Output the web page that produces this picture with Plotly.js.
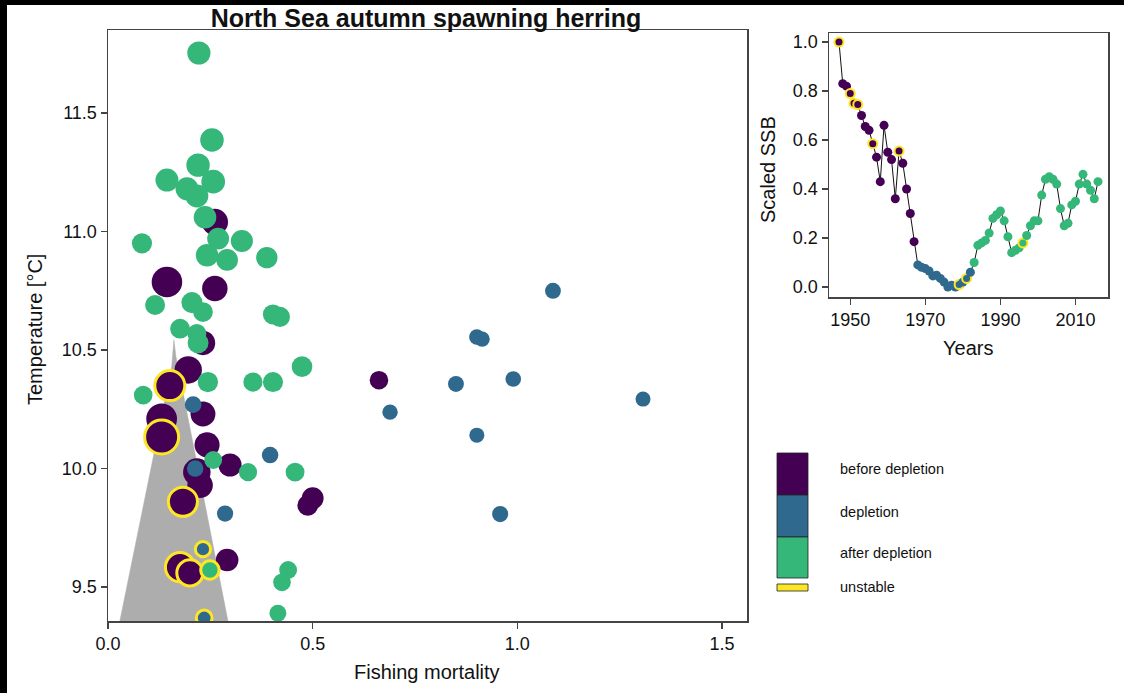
<!DOCTYPE html>
<html>
<head>
<meta charset="utf-8">
<script src="https://cdn.plot.ly/plotly-3.0.1.min.js"></script>
<style>
  html, body { margin: 0; padding: 0; background: #ffffff; }
  #chart { width: 1124px; height: 693px; }
</style>
</head>
<body>
<div id="chart"></div>
<script>
// ---------------- DATA ----------------
// Left panel: fishing mortality vs temperature, point size = scaled SSB
const fBefore = [0.261,0.144,0.261,0.232,0.196,0.151,0.232,0.131,0.131,0.242,0.298,0.217,0.225,0.183,0.500,0.488,0.291,0.176,0.200,0.662];
const tBefore = [11.04,10.787,10.76,10.53,10.416,10.35,10.23,10.21,10.133,10.10,10.015,9.985,9.93,9.86,9.875,9.845,9.614,9.584,9.56,10.373];
const ssbBefore = [0.60,0.82,0.55,0.50,0.65,0.79,0.52,0.83,1.00,0.53,0.43,0.66,0.55,0.745,0.36,0.30,0.40,0.75,0.585,0.185];
const unstableBefore = [0,0,0,0,0,1,0,0,1,0,0,0,0,1,0,0,0,1,1,0];

const fDepl = [0.208,0.396,0.213,0.286,0.232,0.235,1.087,0.901,0.914,0.850,0.990,1.307,0.689,0.901,0.958];
const tDepl = [10.27,10.057,10.0,9.81,9.66,9.37,10.75,10.555,10.546,10.357,10.378,10.293,10.238,10.141,9.808];
const ssbDepl = [0.09,0.08,0.075,0.065,0.01,0.035,0.045,0.02,0.007,0.048,0.035,0.0,0.02,0.0,0.06];
const unstableDepl = [0,0,0,0,1,1,0,0,0,0,0,0,0,0,0];

const fAfter = [0.222,0.254,0.220,0.144,0.193,0.257,0.217,0.237,0.269,0.327,0.083,0.242,0.291,0.388,0.115,0.205,0.232,0.403,0.420,0.176,0.217,0.220,0.244,0.474,0.354,0.403,0.086,0.257,0.342,0.457,0.249,0.440,0.425,0.415];
const tAfter = [11.753,11.386,11.28,11.217,11.18,11.21,11.15,11.06,10.97,10.96,10.95,10.90,10.88,10.89,10.69,10.70,10.66,10.65,10.64,10.59,10.57,10.53,10.365,10.43,10.365,10.365,10.31,10.036,9.985,9.985,9.572,9.572,9.52,9.39];
const ssbAfter = [0.43,0.45,0.44,0.42,0.42,0.46,0.42,0.40,0.36,0.375,0.27,0.395,0.35,0.335,0.26,0.32,0.25,0.27,0.27,0.25,0.21,0.31,0.28,0.295,0.22,0.27,0.19,0.15,0.17,0.205,0.18,0.15,0.14,0.10];
const unstableAfter = [0,0,0,0,0,0,0,0,0,0,0,0,0,0,0,0,0,0,0,0,0,0,0,0,0,0,0,0,0,0,1,0,0,0];

// Grey region
const regionF = [0.029,0.1556,0.161,0.166,0.293];
const regionT = [9.357,10.43,10.542,10.472,9.357];

// Right panel: scaled SSB time series
const yearsBefore = [1947,1948,1949,1950,1951,1952,1953,1954,1955,1956,1957,1958,1959,1960,1961,1962,1963,1964,1965,1966,1967];
const ssbSeriesBefore = [1.0,0.83,0.82,0.79,0.75,0.745,0.70,0.655,0.64,0.585,0.53,0.43,0.66,0.55,0.52,0.36,0.555,0.505,0.40,0.30,0.185];
const unstSeriesBefore = [1,0,0,1,1,1,0,0,0,1,0,0,0,0,0,0,1,0,0,0,0];
const yearsDepl = [1968,1969,1970,1971,1972,1973,1974,1975,1976,1977,1978,1979,1980,1981,1982];
const ssbSeriesDepl = [0.09,0.08,0.075,0.065,0.045,0.048,0.035,0.02,0.0,0.007,0.0,0.01,0.02,0.035,0.06];
const unstSeriesDepl = [0,0,0,0,0,0,0,0,0,0,0,1,0,1,0];
const yearsAfter = [1983,1984,1985,1986,1987,1988,1989,1990,1991,1992,1993,1994,1995,1996,1997,1998,1999,2000,2001,2002,2003,2004,2005,2006,2007,2008,2009,2010,2011,2012,2013,2014,2015,2016];
const ssbSeriesAfter = [0.10,0.17,0.18,0.19,0.22,0.28,0.295,0.31,0.27,0.205,0.14,0.15,0.16,0.18,0.21,0.25,0.27,0.27,0.375,0.44,0.45,0.44,0.42,0.32,0.25,0.26,0.335,0.35,0.42,0.46,0.42,0.395,0.36,0.43];
const unstSeriesAfter = [0,0,0,0,0,0,0,0,0,0,0,0,0,1,0,0,0,0,0,0,0,0,0,0,0,0,0,0,0,0,0,0,0,0];

const phaseLabels = ['before depletion','depletion','after depletion','unstable'];
const tickF = [0,0.5,1,1.5];
const tickT = [9.5,10,10.5,11,11.5];
const tickYears = [1950,1970,1990,2010];
const tickSSB = [0,0.2,0.4,0.6,0.8,1.0];

// ---------------- STYLE ----------------
const W = 1124, H = 693;
const px = v => v / W;
const py = v => 1 - v / H;
const C_BEFORE = '#440154', C_DEPL = '#30698E', C_AFTER = '#35B779', C_UNST = '#FDE725';
const FONT = 'Liberation Sans, Arial, sans-serif';
const sizeOf = s => 15 + 19 * s;

function leftTrace(f, t, ssb, unst, color) {
  return {
    type: 'scatter', mode: 'markers', x: f, y: t, xaxis: 'x', yaxis: 'y',
    marker: {
      color: color, size: ssb.map(sizeOf), opacity: 1,
      line: { color: unst.map(u => u ? C_UNST : color), width: unst.map(u => u ? 3 : 0) }
    },
    hoverinfo: 'x+y'
  };
}
function rightTrace(yrs, ssb, unst, color) {
  return {
    type: 'scatter', mode: 'markers', x: yrs, y: ssb, xaxis: 'x2', yaxis: 'y2',
    marker: {
      color: color, size: 9,
      line: { color: unst.map(u => u ? C_UNST : color), width: unst.map(u => u ? 2 : 0) }
    }
  };
}

const traces = [
  { type: 'scatter', mode: 'lines', x: regionF, y: regionT, fill: 'toself', fillcolor: '#ADADAD',
    line: { color: '#ADADAD', width: 0.5 }, xaxis: 'x', yaxis: 'y', hoverinfo: 'skip' },
  leftTrace(fBefore, tBefore, ssbBefore, unstableBefore, C_BEFORE),
  leftTrace(fDepl, tDepl, ssbDepl, unstableDepl, C_DEPL),
  leftTrace(fAfter, tAfter, ssbAfter, unstableAfter, C_AFTER),
  { type: 'scatter', mode: 'lines', x: yearsBefore.concat(yearsDepl, yearsAfter),
    y: ssbSeriesBefore.concat(ssbSeriesDepl, ssbSeriesAfter), xaxis: 'x2', yaxis: 'y2',
    line: { color: '#111', width: 1 }, hoverinfo: 'skip' },
  rightTrace(yearsBefore, ssbSeriesBefore, unstSeriesBefore, C_BEFORE),
  rightTrace(yearsDepl, ssbSeriesDepl, unstSeriesDepl, C_DEPL),
  rightTrace(yearsAfter, ssbSeriesAfter, unstSeriesAfter, C_AFTER)
];

const axisCommon = {
  showgrid: false, zeroline: false, showline: true, mirror: true,
  linecolor: '#444', linewidth: 1.5, ticks: 'outside', ticklen: 6, tickwidth: 1.2, tickcolor: '#444',
  tickfont: { family: FONT, size: 18, color: '#111' }
};

const legendBoxes = [
  { y0: 453, y1: 495, c: C_BEFORE },
  { y0: 495, y1: 537, c: C_DEPL },
  { y0: 537, y1: 578, c: C_AFTER }
];
const shapes = legendBoxes.map(b => ({
  type: 'rect', xref: 'paper', yref: 'paper', x0: px(777), x1: px(808), y0: py(b.y1), y1: py(b.y0),
  fillcolor: b.c, line: { color: '#222', width: 0.8 }
}));
shapes.push({ type: 'rect', xref: 'paper', yref: 'paper', x0: px(777), x1: px(808), y0: py(591), y1: py(584),
  fillcolor: C_UNST, line: { color: '#222', width: 0.8 } });
// black scan borders
shapes.push({ type: 'rect', xref: 'paper', yref: 'paper', x0: 0, x1: px(7), y0: 0, y1: 1, fillcolor: '#000', line: { width: 0 }, layer: 'above' });
shapes.push({ type: 'rect', xref: 'paper', yref: 'paper', x0: 0, x1: 1, y0: py(5), y1: 1, fillcolor: '#000', line: { width: 0 }, layer: 'above' });

const legendY = [469, 512, 553, 587];
const annotations = phaseLabels.map((t, i) => ({
  text: t, xref: 'paper', yref: 'paper', x: px(838), y: py(legendY[i]), xanchor: 'left', yanchor: 'middle',
  showarrow: false, font: { family: FONT, size: 14.5, color: '#111' }
}));
annotations.push(
  { text: 'Temperature [°C]', xref: 'paper', yref: 'paper', x: px(35), y: py(330), textangle: -90,
    xanchor: 'center', yanchor: 'middle', showarrow: false, font: { family: FONT, size: 20, color: '#111' } },
  { text: 'Fishing mortality', xref: 'paper', yref: 'paper', x: px(427), y: py(672),
    xanchor: 'center', yanchor: 'middle', showarrow: false, font: { family: FONT, size: 20, color: '#111' } },
  { text: 'Scaled SSB', xref: 'paper', yref: 'paper', x: px(768), y: py(170), textangle: -90,
    xanchor: 'center', yanchor: 'middle', showarrow: false, font: { family: FONT, size: 20, color: '#111' } },
  { text: 'Years', xref: 'paper', yref: 'paper', x: px(968), y: py(348),
    xanchor: 'center', yanchor: 'middle', showarrow: false, font: { family: FONT, size: 20, color: '#111' } }
);

const layout = {
  width: W, height: H, margin: { l: 0, r: 0, t: 0, b: 0 },
  paper_bgcolor: '#ffffff', plot_bgcolor: '#ffffff', showlegend: false,
  font: { family: FONT, color: '#111' },
  title: { text: '<b>North Sea autumn spawning herring</b>', font: { family: FONT, size: 25, color: '#111' },
    x: px(426), xanchor: 'center', y: py(18), yanchor: 'middle', xref: 'paper', yref: 'container' },
  xaxis: Object.assign({}, axisCommon, { domain: [px(108), px(747)], range: [0, 1.561], tickvals: tickF, tickformat: '.1f', anchor: 'y' }),
  yaxis: Object.assign({}, axisCommon, { domain: [py(621), py(30)], range: [9.357, 11.85], tickvals: tickT, tickformat: '.1f', anchor: 'x' }),
  xaxis2: Object.assign({}, axisCommon, { domain: [px(829), px(1108)], range: [1944.34, 2018.66], tickvals: tickYears, anchor: 'y2' }),
  yaxis2: Object.assign({}, axisCommon, { domain: [py(297), py(33)], range: [-0.041, 1.037], tickvals: tickSSB, tickformat: '.1f', anchor: 'x2' }),
  shapes: shapes,
  annotations: annotations
};

Plotly.newPlot('chart', traces, layout, { displayModeBar: false, staticPlot: true });
</script>
</body>
</html>
